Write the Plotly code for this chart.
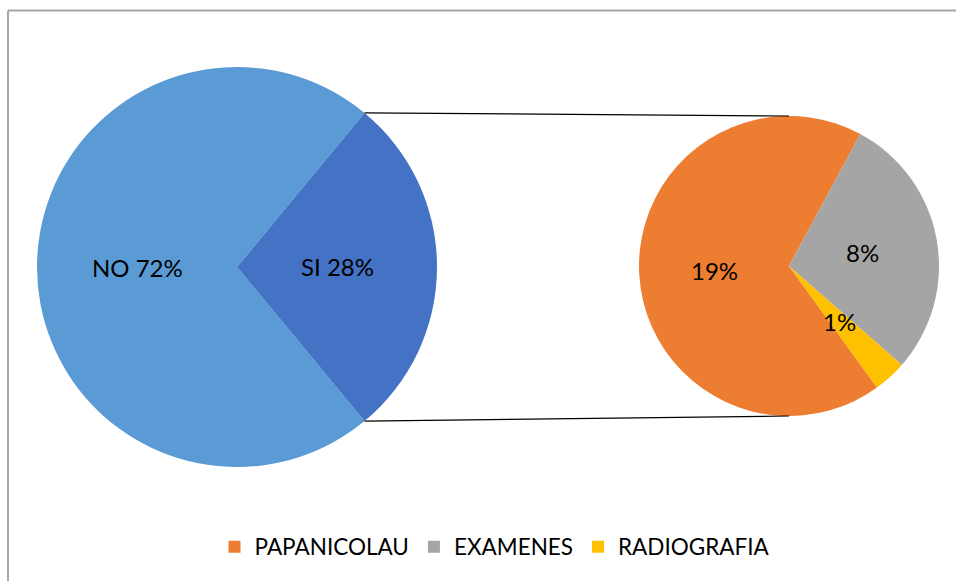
import math
import plotly.graph_objects as go

# ---- data ----
main_labels = ["NO", "SI"]
main_values = [72, 28]
sub_labels = ["PAPANICOLAU", "EXAMENES", "RADIOGRAFIA"]
sub_values = [19, 8, 1]

main_colors = ["#5B9BD5", "#4472C4"]
sub_colors = ["#ED7D31", "#A5A5A5", "#FFC000"]

W, H = 956, 581
FONT = "Lato, 'Open Sans', sans-serif"

# geometry (window pixels)
L_CX, L_CY, L_R = 237.0, 267.0, 200.0
R_CX, R_CY, R_R = 789.0, 266.0, 150.0


def px_x(x):
    return x / W


def px_y(y):
    return 1 - y / H


def dom(cx, cy, r):
    return dict(x=[px_x(cx - r), px_x(cx + r)], y=[px_y(cy + r), px_y(cy - r)])


main_total = sum(main_values)
si_span = main_values[1] / main_total * 360
main_rot = 90 + si_span / 2   # SI slice centred to the right
sub_rot = 144.1

fig = go.Figure()
fig.add_trace(go.Pie(
    labels=main_labels, values=main_values, sort=False, direction="clockwise",
    rotation=main_rot, domain=dom(L_CX, L_CY, L_R),
    marker=dict(colors=main_colors, line=dict(width=0)),
    textinfo="none", hoverinfo="skip", showlegend=False,
))
fig.add_trace(go.Pie(
    labels=sub_labels, values=sub_values, sort=False, direction="clockwise",
    rotation=sub_rot, domain=dom(R_CX, R_CY, R_R),
    marker=dict(colors=sub_colors, line=dict(width=0)),
    textinfo="none", hoverinfo="skip", showlegend=True,
))


def slice_angles(values, rot):
    tot = sum(values)
    a = rot
    mids, edges = [], [rot]
    for v in values:
        span = v / tot * 360
        mids.append(a + span / 2)
        a += span
        edges.append(a)
    return mids, edges


lab_font = dict(family=FONT, size=24, color="#000000")
annotations = []
mids, edges = slice_angles(main_values, main_rot)
for lab, v, m in zip(main_labels, main_values, mids):
    x = L_CX + 0.5 * L_R * math.sin(math.radians(m))
    y = L_CY - 0.5 * L_R * math.cos(math.radians(m))
    annotations.append(dict(x=px_x(x), y=px_y(y), xref="paper", yref="paper",
                            xanchor="center", yanchor="middle",
                            text=f"{lab} {round(v / main_total * 100)}%", showarrow=False,
                            font=lab_font))
smids, _ = slice_angles(sub_values, sub_rot)
for v, m in zip(sub_values, smids):
    x = R_CX + 0.5 * R_R * math.sin(math.radians(m))
    y = R_CY - 0.5 * R_R * math.cos(math.radians(m))
    annotations.append(dict(x=px_x(x), y=px_y(y), xref="paper", yref="paper",
                            xanchor="center", yanchor="middle",
                            text=f"{v}%", showarrow=False, font=lab_font))

# connector lines: SI slice edges -> top/bottom of secondary pie
shapes = []
si_start, si_end = edges[1], edges[2]
for ang, ty in ((si_start, R_CY - R_R), (si_end, R_CY + R_R)):
    x0 = L_CX + L_R * math.sin(math.radians(ang))
    y0 = L_CY - L_R * math.cos(math.radians(ang))
    shapes.append(dict(type="line", xref="paper", yref="paper",
                       x0=px_x(x0), y0=px_y(y0), x1=px_x(R_CX), y1=px_y(ty),
                       line=dict(color="#000000", width=1.2)))

# chart border (left and top edges)
shapes.append(dict(type="line", xref="paper", yref="paper", x0=px_x(8), x1=px_x(8),
                   y0=0, y1=px_y(10.5), line=dict(color="#A6A6A6", width=2)))
shapes.append(dict(type="line", xref="paper", yref="paper", x0=px_x(8), x1=1,
                   y0=px_y(10.5), y1=px_y(10.5), line=dict(color="#A6A6A6", width=2)))

fig.update_layout(
    width=W, height=H, margin=dict(l=0, r=0, t=0, b=0),
    paper_bgcolor="white", plot_bgcolor="white",
    annotations=annotations, shapes=shapes,
    legend=dict(orientation="h", x=px_x(495), xanchor="center", y=px_y(547), yanchor="middle",
                font=dict(family=FONT, size=22.5, color="#000000"),
                itemwidth=30, traceorder="normal"),
)

fig.write_html(
    "out.html",
    config={"displayModeBar": False},
    post_script="document.body.style.margin='0';document.body.style.overflow='hidden';",
)
